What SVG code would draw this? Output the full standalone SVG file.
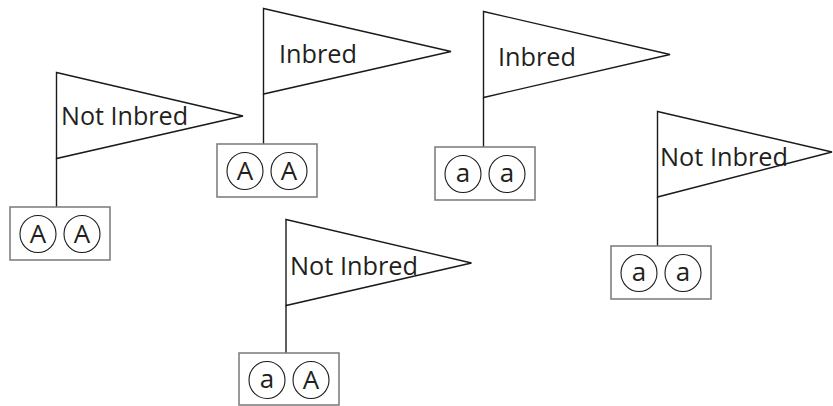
<svg xmlns="http://www.w3.org/2000/svg" width="833" height="406" viewBox="0 0 833 406">
<style>
.flag{fill:#fff;stroke:#1a1a1a;stroke-width:1.4;stroke-linejoin:miter}
.pole{stroke:#1a1a1a;stroke-width:1.4;fill:none}
.box{fill:#fff;stroke:#808080;stroke-width:1.6}
.al{fill:#fff;stroke:#1a1a1a;stroke-width:1.1}
.lbl{font-family:"Open Sans","Liberation Sans",sans-serif;font-size:25px;fill:#231f20}
.g{font-family:"Open Sans","Liberation Sans",sans-serif;font-size:26px;fill:#231f20;text-anchor:middle}
</style>
<rect width="833" height="406" fill="#fff"/>
<g id="flag1">
<polygon class="flag" points="56.5,72.5 243,116 56.5,158.5"/>
<line class="pole" x1="56.5" y1="158.5" x2="56.5" y2="207"/>
<text class="lbl" x="61" y="125" textLength="127" lengthAdjust="spacingAndGlyphs">Not Inbred</text>
<rect class="box" x="10" y="207" width="100" height="53"/>
<ellipse class="al" cx="38" cy="234" rx="18" ry="18.5"/>
<ellipse class="al" cx="82" cy="234" rx="18" ry="18.5"/>
<text class="g" x="38" y="243">A</text>
<text class="g" x="82" y="243">A</text>
</g>
<g id="flag2">
<polygon class="flag" points="263.5,8.5 451,51.5 263.5,94"/>
<line class="pole" x1="263.5" y1="94" x2="263.5" y2="144"/>
<text class="lbl" x="279" y="63" textLength="78" lengthAdjust="spacingAndGlyphs">Inbred</text>
<rect class="box" x="217" y="144" width="100" height="53"/>
<ellipse class="al" cx="245" cy="171" rx="18" ry="18.5"/>
<ellipse class="al" cx="289" cy="171" rx="18" ry="18.5"/>
<text class="g" x="245" y="180">A</text>
<text class="g" x="289" y="180">A</text>
</g>
<g id="flag3">
<polygon class="flag" points="483.5,11.5 670,54.5 483.5,97.5"/>
<line class="pole" x1="483.5" y1="97.5" x2="483.5" y2="147"/>
<text class="lbl" x="498" y="66" textLength="78" lengthAdjust="spacingAndGlyphs">Inbred</text>
<rect class="box" x="435" y="147" width="100" height="53"/>
<ellipse class="al" cx="463" cy="174" rx="18" ry="18.5"/>
<ellipse class="al" cx="507" cy="174" rx="18" ry="18.5"/>
<text class="g" x="463" y="182">a</text>
<text class="g" x="507" y="182">a</text>
</g>
<g id="flag4">
<polygon class="flag" points="657.5,111.5 832,152 657.5,197"/>
<line class="pole" x1="657.5" y1="197" x2="657.5" y2="246"/>
<text class="lbl" x="660" y="166" textLength="128" lengthAdjust="spacingAndGlyphs">Not Inbred</text>
<rect class="box" x="611" y="246" width="100" height="53"/>
<ellipse class="al" cx="639" cy="273" rx="18" ry="18.5"/>
<ellipse class="al" cx="683" cy="273" rx="18" ry="18.5"/>
<text class="g" x="639" y="281">a</text>
<text class="g" x="683" y="281">a</text>
</g>
<g id="flag5">
<polygon class="flag" points="286,219.5 471.5,263 286,305.5"/>
<line class="pole" x1="286" y1="305.5" x2="286" y2="353"/>
<text class="lbl" x="290" y="275" textLength="128" lengthAdjust="spacingAndGlyphs">Not Inbred</text>
<rect class="box" x="239" y="353" width="100" height="52"/>
<ellipse class="al" cx="267" cy="380" rx="18" ry="18.5"/>
<ellipse class="al" cx="311" cy="380" rx="18" ry="18.5"/>
<text class="g" x="267" y="388">a</text>
<text class="g" x="311" y="389">A</text>
</g>
<g id="connectors"/>
</svg>
